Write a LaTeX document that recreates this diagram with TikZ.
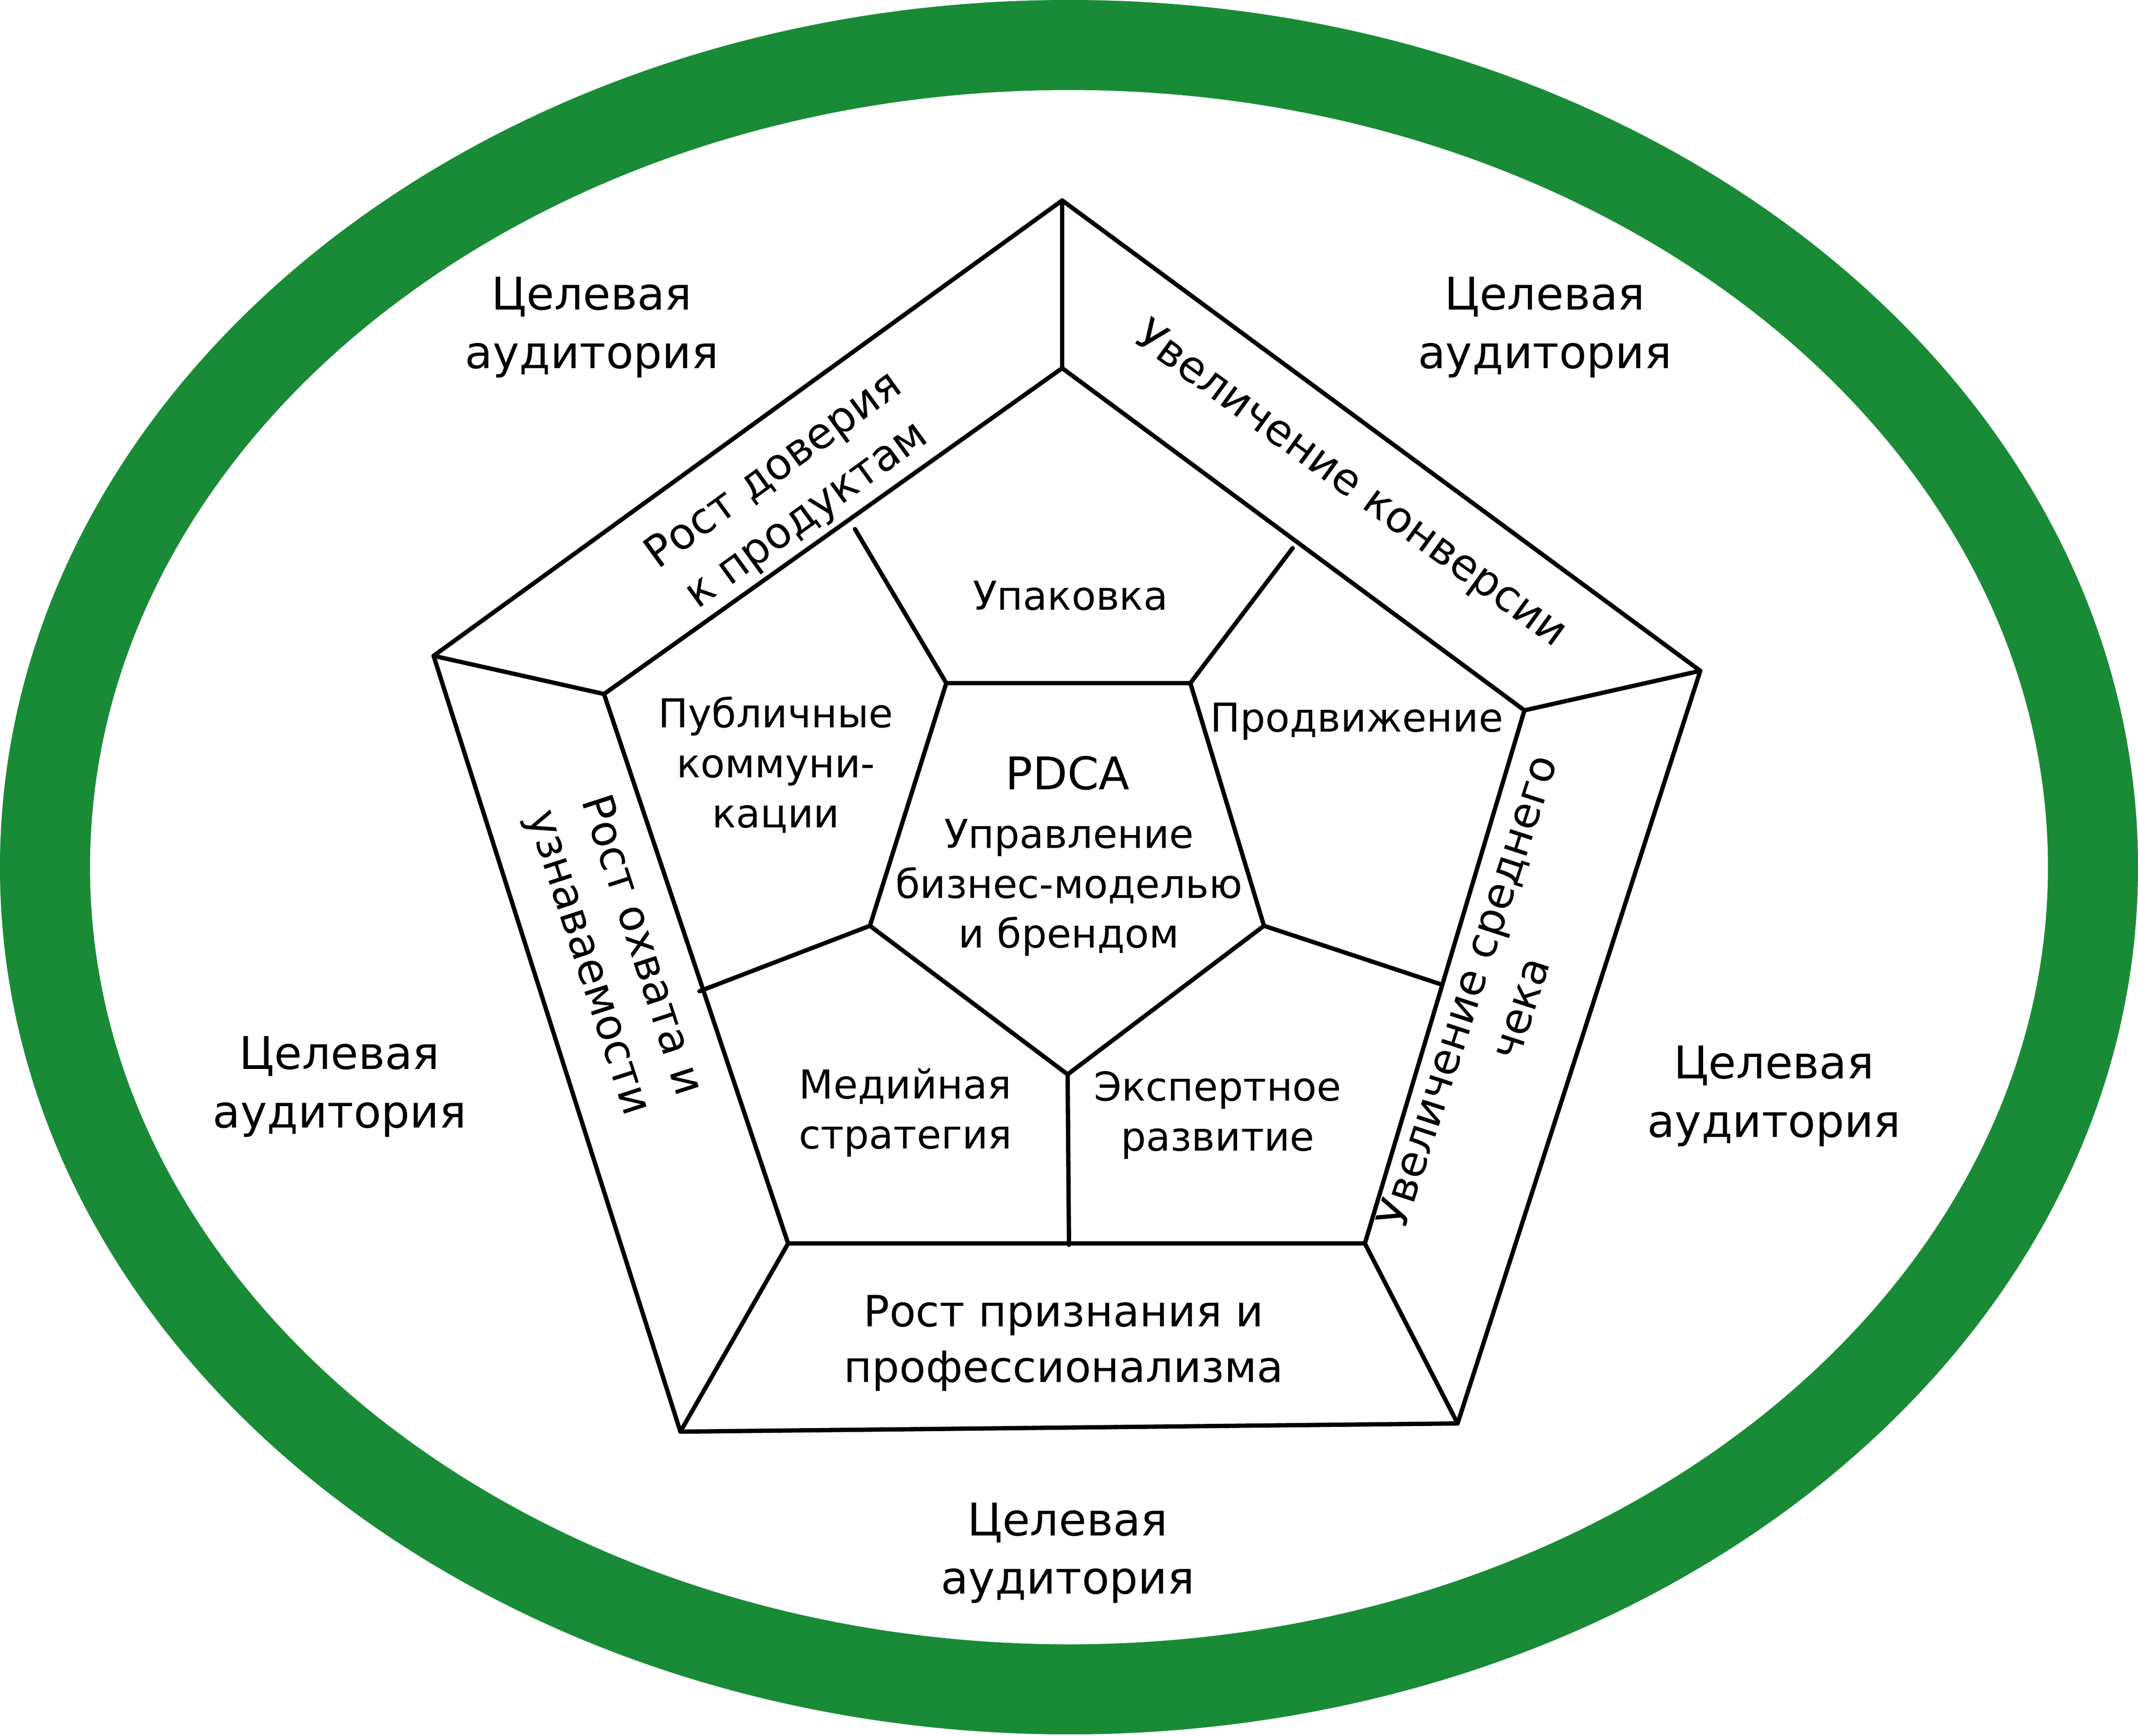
\documentclass[tikz,border=0pt]{standalone}
\usepackage{fontspec}
\setmainfont{DejaVu Sans}
\definecolor{ringgreen}{RGB}{25,139,55}
\begin{document}
\begin{tikzpicture}[
	x=0.01cm,
	y=-0.01cm,
	line join=round,
	line cap=round,
	edge/.style={line width=0.9pt},
	big/.style={align=center, font=\fontsize{9.4}{12.2}\selectfont},
	side/.style={align=center, font=\fontsize{9}{11.6}\selectfont},
	small/.style={align=center, font=\fontsize{8.3}{10.4}\selectfont},
	]
\useasboundingbox (0,0) rectangle (1568,1273);
\draw[ringgreen, line width=0.66cm] (784,636) ellipse [x radius=751, y radius=603];
% outer pentagon
\coordinate (o1) at (779,147);
\coordinate (o2) at (1247,492);
\coordinate (o3) at (1069,1044);
\coordinate (o4) at (499,1050);
\coordinate (o5) at (318,481);
% middle pentagon
\coordinate (m1) at (779,270);
\coordinate (m2) at (1118,521);
\coordinate (m3) at (1001,912);
\coordinate (m4) at (578,912);
\coordinate (m5) at (443,509);
% inner pentagon
\coordinate (i1) at (694,501);
\coordinate (i2) at (873,501);
\coordinate (i3) at (927,679);
\coordinate (i4) at (783,788);
\coordinate (i5) at (638,679);
% dividers on middle pentagon
\coordinate (d1) at (627,388);
\coordinate (d2) at (948,402);
\coordinate (d3) at (1057,722);
\coordinate (d4) at (784,913);
\coordinate (d5) at (513,727);
\draw[edge] (o1) -- (o2) -- (o3) -- (o4) -- (o5) -- cycle;
\draw[edge] (m1) -- (m2) -- (m3) -- (m4) -- (m5) -- cycle;
\draw[edge] (i1) -- (i2) -- (i3) -- (i4) -- (i5) -- cycle;
\foreach \n in {1, 2, 3, 4, 5}
	\draw[edge] (o\n) -- (m\n);
\draw[edge] (d1) -- (i1);
\draw[edge] (d2) -- (i2);
\draw[edge] (d3) -- (i3);
\draw[edge] (d4) -- (i4);
\draw[edge] (d5) -- (i5);
% labels
\node[big] (ta1) at (434,240) {Целевая\\аудитория};
\node[big] (ta2) at (1133,240) {Целевая\\аудитория};
\node[big] (ta3) at (249,797) {Целевая\\аудитория};
\node[big] (ta4) at (1301,804) {Целевая\\аудитория};
\node[big] (ta5) at (783,1139) {Целевая\\аудитория};
\node[side, rotate=36] (trust) at (580,362) {Рост доверия\\к продуктам};
\node[side, rotate=-36] (conv) at (990,356) {Увеличение конверсии};
\node[side, rotate=72] (check) at (1095,733) {Увеличение среднего\\чека};
\node[side, rotate=-72] (reach) at (450,700) {Рост охвата и\\узнаваемости};
\node[side] (prof) at (780,985) {Рост признания и\\профессионализма};
\node[small] (pack) at (785,437) {Упаковка};
\node[small] (promo) at (995,529) {Продвижение};
\node[small] (pub) at (569,561) {Публичные\\коммуни-\\кации};
\node[small] (media) at (664,816) {Медийная\\стратегия};
\node[small] (expert) at (893,818) {Экспертное\\развитие};
\node[big] (pdca) at (783,567) {PDCA};
\node[small] (manage) at (784,651) {Управление\\бизнес-моделью\\и брендом};
\end{tikzpicture}
\end{document}
